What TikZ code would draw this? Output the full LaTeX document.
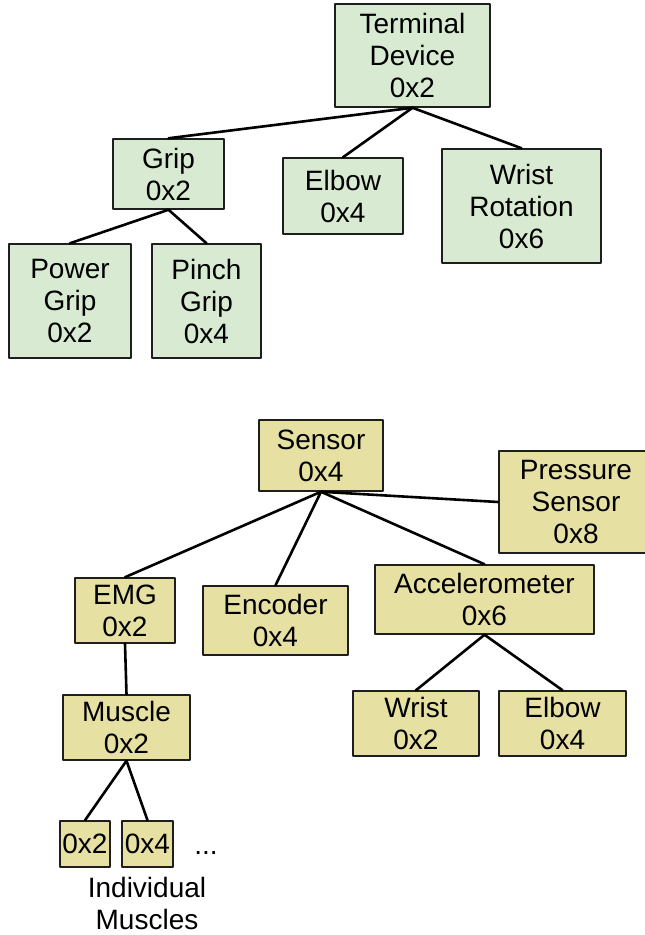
\documentclass[tikz,border=0pt]{standalone}
\usepackage{fontspec}
\setmainfont{Liberation Sans}
\usetikzlibrary{positioning}
\definecolor{tdGreen}{HTML}{D9EAD3}
\definecolor{snYellow}{HTML}{E6E0A2}
\definecolor{tdInk}{HTML}{1E1E1E}
\tikzset{
 tree/.style={font=\fontsize{28}{32}\selectfont,line cap=round,line join=round,text=black},
 node box/.style={rectangle,draw=tdInk,line width=1.5pt,align=center,inner sep=0pt},
 dev/.style={node box,fill=tdGreen},
 sen/.style={node box,fill=snYellow},
 link/.style={draw=black,line width=2.6pt},
 plain/.style={align=center,inner sep=0pt}
}
\begin{document}
\begin{tikzpicture}[tree,x=1pt,y=-1pt]
 \useasboundingbox (0,0) rectangle (645,935);
 % terminal device tree
 \node[dev,minimum width=155pt,minimum height=103pt] (term) at (412.5,55.5) {Terminal\\Device\\0x2};
 \node[dev,minimum width=111pt,minimum height=70pt] (grip) at (168.5,174) {Grip\\0x2};
 \node[dev,minimum width=120pt,minimum height=76pt] (elbow) at (343,196) {Elbow\\0x4};
 \node[dev,minimum width=159pt,minimum height=114pt] (wrot) at (521.5,206) {Wrist\\Rotation\\0x6};
 \node[dev,minimum width=122pt,minimum height=114pt] (power) at (70,301) {Power\\Grip\\0x2};
 \node[dev,minimum width=109pt,minimum height=114pt] (pinch) at (206.5,301) {Pinch\\Grip\\0x4};
 \draw[link] (term.south) -- (grip.north);
 \draw[link] (term.south) -- (elbow.north);
 \draw[link] (term.south) -- (wrot.north);
 \draw[link] (grip.south) -- (power.north);
 \draw[link] (grip.south) -- (pinch.north);
 % sensor tree
 \node[sen,minimum width=124pt,minimum height=71pt] (sensor) at (321,455.5) {Sensor\\0x4};
 \node[sen,minimum width=154pt,minimum height=102pt] (press) at (576,502) {Pressure\\Sensor\\0x8};
 \node[sen,minimum width=100pt,minimum height=65pt] (emg) at (125,610.5) {EMG\\0x2};
 \node[sen,minimum width=145pt,minimum height=69pt] (enc) at (275.5,620.5) {Encoder\\0x4};
 \node[sen,minimum width=219pt,minimum height=69pt] (accel) at (484.5,599.5) {Accelerometer\\0x6};
 \node[sen,minimum width=127pt,minimum height=65pt] (muscle) at (126.5,727.5) {Muscle\\0x2};
 \node[sen,minimum width=126pt,minimum height=65pt] (wrist) at (416,723.5) {Wrist\\0x2};
 \node[sen,minimum width=127pt,minimum height=65pt] (elbowb) at (562.5,723.5) {Elbow\\0x4};
 \node[sen,minimum width=50pt,minimum height=46pt] (mA) at (85,844) {0x2};
 \node[sen,minimum width=51pt,minimum height=46pt] (mB) at (147.5,844) {0x4};
 \node[plain,anchor=base] (dots) at (206,854) {...};
 \node[plain] (indiv) at (147,903) {Individual\\Muscles};
 \draw[link] (sensor.south) -- (press.west);
 \draw[link] (sensor.south) -- (emg.north);
 \draw[link] (sensor.south) -- (enc.north);
 \draw[link] (sensor.south) -- (accel.north);
 \draw[link] (emg.south) -- (muscle.north);
 \draw[link] (muscle.south) -- (mA.north);
 \draw[link] (muscle.south) -- (mB.north);
 \draw[link] (accel.south) -- (wrist.north);
 \draw[link] (accel.south) -- (elbowb.north);
\end{tikzpicture}
\end{document}
